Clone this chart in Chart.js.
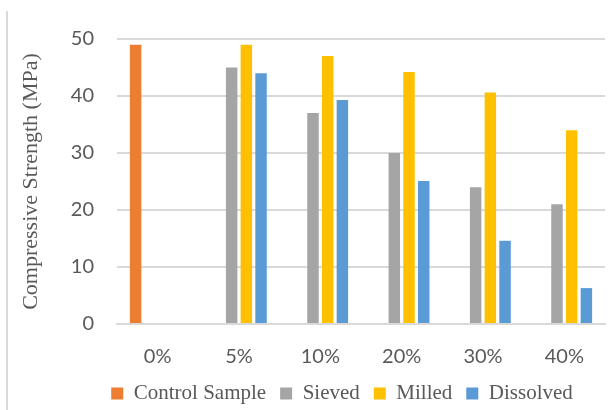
<!DOCTYPE html>
<html>
<head>
<meta charset="utf-8">
<script src="https://cdn.jsdelivr.net/npm/chart.js@4.4.1/dist/chart.umd.min.js"></script>
<style>
  html, body { margin: 0; padding: 0; background: #fff; }
  #wrap { width: 614px; height: 410px; position: relative; }
</style>
</head>
<body>
<div id="wrap"><canvas id="strength" width="614" height="410"></canvas></div>
<script>
// categories and series
const replacement = ['0%', '5%', '10%', '20%', '30%', '40%'];
const controlSample = [49, null, null, null, null, null];
const sieved = [null, 45, 37, 30, 24, 21];
const milled = [null, 49, 47, 44.2, 40.6, 34];
const dissolved = [null, 44, 39.3, 25.1, 14.6, 6.3];
const yTicks = [0, 10, 20, 30, 40, 50];

const textGrey = '#595959';
const gridGrey = '#d9d9d9';

// light frame edge on the left of the picture
const frameLine = {
    id: 'frameLine',
    beforeDraw(chart) {
        const ctx = chart.ctx;
        ctx.save();
        ctx.fillStyle = '#fff';
        ctx.fillRect(0, 0, chart.width, chart.height);
        ctx.strokeStyle = gridGrey;
        ctx.lineWidth = 2;
        ctx.beginPath();
        ctx.moveTo(7, 11);
        ctx.lineTo(7, chart.height);
        ctx.stroke();
        ctx.restore();
    }
};

// the legend row sits a little right of and below the default spot
const legendNudge = {
    id: 'legendNudge',
    afterLayout(chart) {
        const lg = chart.legend;
        lg.left += 32; lg.right += 32;
        lg.top += 4; lg.bottom += 4;
    }
};

function bars(label, data, color) {
    return {
        label: label,
        data: data,
        backgroundColor: color,
        borderWidth: 0,
        categoryPercentage: 0.723,
        barPercentage: 0.78
    };
}

new Chart(document.getElementById('strength'), {
    type: 'bar',
    data: {
        labels: replacement,
        datasets: [
            bars('Control Sample', controlSample, '#ed7d31'),
            bars('Sieved', sieved, '#a5a5a5'),
            bars('Milled', milled, '#ffc000'),
            bars('Dissolved', dissolved, '#5b9bd5')
        ]
    },
    options: {
        responsive: false,
        animation: false,
        layout: {
            padding: { top: 39, left: 15, right: 9, bottom: 0 }
        },
        plugins: {
            legend: {
                position: 'bottom',
                labels: {
                    boxWidth: 12,
                    boxHeight: 12,
                    padding: 14,
                    color: textGrey,
                    font: { family: '"Liberation Serif", "Times New Roman", serif', size: 21 }
                }
            },
            tooltip: { enabled: false }
        },
        scales: {
            x: {
                grid: { display: false, drawTicks: false },
                border: { color: gridGrey, width: 2 },
                ticks: {
                    color: textGrey,
                    padding: 21,
                    font: { family: 'Lato, Carlito, sans-serif', size: 20 }
                },
                afterFit: function (scale) { scale.height = 41; }
            },
            y: {
                min: 0,
                max: 50,
                afterBuildTicks: function (scale) {
                    scale.ticks = yTicks.map(v => ({ value: v }));
                },
                grid: { color: gridGrey, lineWidth: 2, drawTicks: false },
                border: { display: false },
                ticks: {
                    color: textGrey,
                    padding: 23,
                    font: { family: 'Lato, Carlito, sans-serif', size: 20 }
                },
                title: {
                    display: true,
                    text: 'Compressive Strength (MPa)',
                    color: textGrey,
                    padding: { top: 3, bottom: 0 },
                    font: { family: '"Liberation Serif", "Times New Roman", serif', size: 22 }
                },
                afterFit: function (scale) { scale.width = 102; }
            }
        }
    },
    plugins: [frameLine, legendNudge]
});
</script>
</body>
</html>
